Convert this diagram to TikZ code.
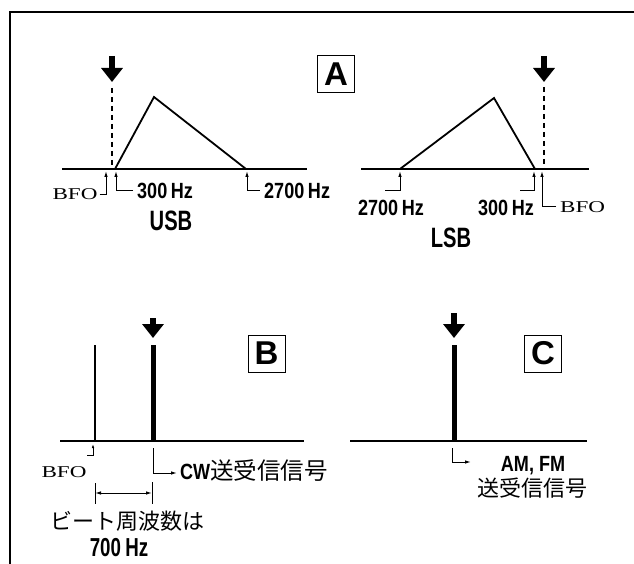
\documentclass[tikz,border=0pt]{standalone}
\usepackage{fontspec}
\setmainfont{Liberation Sans}
\newfontfamily\condfont[FakeStretch=0.82]{Liberation Sans}
\newfontfamily\narrowfont[FakeStretch=0.72]{Liberation Sans}
\newfontfamily\bfofont[FakeStretch=1.4]{Liberation Serif}
\newfontfamily\jpfont{Noto Sans CJK JP}
\usetikzlibrary{arrows.meta}

\tikzset{
  axis/.style={line width=1.8pt},
  band/.style={line width=1.8pt, line join=miter},
  carrier/.style={line width=5pt},
  bfoline/.style={line width=1.3pt, dash pattern=on 5pt off 4pt},
  tune/.style={line width=6pt, -{Triangle[width=21pt,length=14pt]}},
  hook/.style={line width=1pt, -{Latex[length=6pt,width=3.5pt]}},
  hzlabel/.style={inner sep=0pt, font=\condfont\bfseries\fontsize{22}{22}\selectfont},
  sblabel/.style={inner sep=0pt, font=\narrowfont\bfseries\fontsize{28}{28}\selectfont},
  bfolabel/.style={inner sep=0pt, font=\bfofont\fontsize{16.5}{16.5}\selectfont},
  jplabel/.style={inner sep=0pt, font=\jpfont\fontsize{22}{22}\selectfont},
  panel/.style={draw, line width=0.8pt, minimum size=37pt, inner sep=0pt,
    font=\bfseries\fontsize{33}{33}\selectfont},
}

\begin{document}
\begin{tikzpicture}[x=1pt,y=-1pt]
\useasboundingbox (0,0) rectangle (634,564);
\draw[line width=2pt] (634,12) -- (10,12) -- (10,564);

% A: USB
\draw[axis] (62,169) -- (307,169);
\draw[band] (115,169) -- (154,97) -- (246,169);
\draw[bfoline] (112,88) -- (112,169);
\draw[tune] (112,56) -- (112,82);
\coordinate (usbBfo) at (106,171);
\coordinate (usbLo) at (116,171);
\coordinate (usbHi) at (247,171);
\node[bfolabel, anchor=base] (usbBfoL) at (75,200) {BFO};
\node[hzlabel, anchor=base west] (usbLoL) at (137,198) {300\,Hz};
\node[hzlabel, anchor=base west] (usbHiL) at (264,198) {2700\,Hz};
\node[sblabel, anchor=base] (usb) at (171,230) {USB};
\draw[hook, shorten <=2pt] (usbBfoL.east) -| (usbBfo);
\draw[hook, shorten <=4pt] (usbLoL.west) -| (usbLo);
\draw[hook, shorten <=4pt] (usbHiL.west) -| (usbHi);
\node[panel] (boxA) at (336,74) {A};

% A: LSB
\draw[axis] (361,169) -- (589,169);
\draw[band] (400,169) -- (494,98) -- (535,169);
\draw[bfoline] (544,87) -- (544,169);
\draw[tune] (544,56) -- (544,82);
\coordinate (lsbHi) at (400,171);
\coordinate (lsbLo) at (534,171);
\coordinate (lsbBfo) at (542,171);
\coordinate (lsbHiEnd) at (385,191);
\coordinate (lsbLoEnd) at (520,191);
\node[hzlabel, anchor=base] (lsbHiL) at (391,215) {2700\,Hz};
\node[hzlabel, anchor=base] (lsbLoL) at (506,215) {300\,Hz};
\node[bfolabel, anchor=base west] (lsbBfoL) at (560,212) {BFO};
\node[sblabel, anchor=base] (lsb) at (451,247) {LSB};
\draw[hook] (lsbHiEnd) -| (lsbHi);
\draw[hook] (lsbLoEnd) -| (lsbLo);
\draw[hook, shorten <=4pt] (lsbBfoL.west) -| (lsbBfo);

% B: CW
\draw[axis] (60,441) -- (304,441);
\draw[line width=1.4pt] (95,345) -- (95,441);
\draw[carrier] (153,345) -- (153,441);
\draw[tune] (153,318) -- (153,338);
\coordinate (cwBfo) at (93,444);
\coordinate (cwBfoEnd) at (87,455);
\coordinate (cwTop) at (153,448);
\coordinate (cwEnd) at (177,473);
\coordinate (beatL) at (95,493);
\coordinate (beatR) at (152,493);
\node[bfolabel, anchor=base] (cwBfoL) at (64,477) {BFO};
\node[inner sep=0pt, anchor=base west] (cwL) at (180,479)
  {\condfont\bfseries\fontsize{22}{22}\selectfont CW\jpfont\mdseries\fontsize{23.5}{23.5}\selectfont 送受信信号};
\node[jplabel, anchor=base] (beatL1) at (127,529) {ビート周波数は};
\node[sblabel, font=\narrowfont\bfseries\fontsize{26}{26}\selectfont, anchor=base] (beatL2) at (119,556) {700\,Hz};
\draw[hook, -{Latex[length=4pt,width=2.5pt]}] (cwBfoEnd) -| (cwBfo);
\draw[hook] (cwTop) |- (cwEnd);
\draw[line width=1pt] (beatL) ++(0,-10) -- ++(0,21);
\draw[line width=1pt] (beatR) ++(0,-11) -- ++(0,22);
\draw[hook, {Latex[length=6pt,width=3.5pt]}-{Latex[length=6pt,width=3.5pt]}] (beatL) -- (beatR);
\node[panel] (boxB) at (266.5,353.5) {B};

% C: AM, FM
\draw[axis] (350,441) -- (587,441);
\draw[carrier] (454,345) -- (454,441);
\draw[tune] (454,313) -- (454,338);
\coordinate (amTop) at (452,448);
\coordinate (amEnd) at (471,462);
\node[hzlabel, anchor=base] (amL1) at (533,471) {AM,\hspace{5pt}FM};
\node[jplabel, anchor=base] (amL2) at (532,496) {送受信信号};
\draw[hook] (amTop) |- (amEnd);
\node[panel] (boxC) at (543,353.5) {C};
\end{tikzpicture}
\end{document}
